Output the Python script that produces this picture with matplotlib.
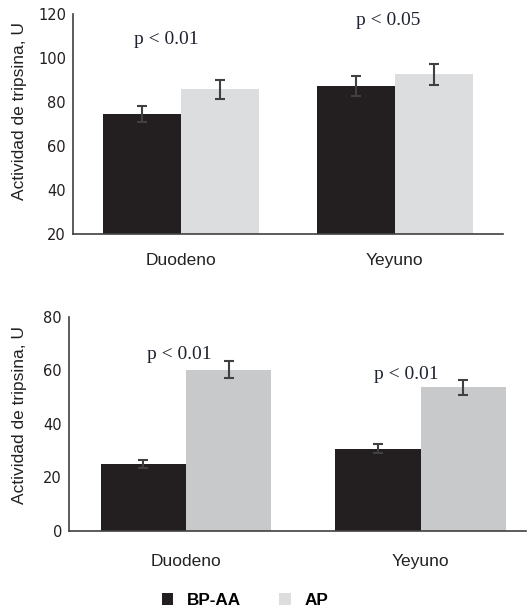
import matplotlib
matplotlib.use("Agg")
import matplotlib.pyplot as plt
import numpy as np

plt.rcParams["font.family"] = ["Liberation Sans", "DejaVu Sans"]

sitios = ["Duodeno", "Yeyuno"]
grupos = ["BP-AA", "AP"]

# panel superior
arriba_bpaa = [74.5, 87.3]
arriba_bpaa_err = [3.7, 4.5]
arriba_ap = [85.9, 92.6]
arriba_ap_err = [4.3, 4.7]
arriba_p = ["p < 0.01", "p < 0.05"]

# panel inferior
abajo_bpaa = [25.0, 30.7]
abajo_bpaa_err = [1.4, 1.7]
abajo_ap = [60.1, 53.6]
abajo_ap_err = [3.2, 2.7]
abajo_p = ["p < 0.01", "p < 0.01"]

negro = "#231f20"
gris_claro = "#dcdddf"
gris_medio = "#c8c9cb"
eje = "#404040"
texto = "#231f20"


def panel(ax, v1, e1, v2, e2, gris, ylim, yticks, pvals, ppos, pad_cat):
    x = np.arange(len(sitios))
    w = 0.364
    b1 = ax.bar(x - w / 2, v1, w, color=negro, zorder=2)
    b2 = ax.bar(x + w / 2, v2, w, color=gris, zorder=2)
    ax.errorbar(x - w / 2, v1, yerr=e1, fmt="none", ecolor=eje,
                elinewidth=1.5, capsize=3.5, capthick=1.5, zorder=3)
    ax.errorbar(x + w / 2, v2, yerr=e2, fmt="none", ecolor=eje,
                elinewidth=1.5, capsize=3.5, capthick=1.5, zorder=3)
    ax.set_ylim(*ylim)
    ax.set_yticks(yticks)
    ax.set_xticks(x)
    ax.set_xticklabels(sitios, fontsize=12.5, color="#222222")
    ax.tick_params(axis="x", length=0, pad=pad_cat)
    ax.tick_params(axis="y", length=0, pad=5, labelsize=10.5, labelcolor=texto)
    for lab in ax.get_yticklabels():
        lab.set_family("DejaVu Sans")
    for s in ["top", "right"]:
        ax.spines[s].set_visible(False)
    for s in ["left", "bottom"]:
        ax.spines[s].set_color(eje)
        ax.spines[s].set_linewidth(1.2)
    ax.set_ylabel("Actividad de tripsina, U", fontsize=12.5, color="#222222")
    for i, (txt, (dx, py)) in enumerate(zip(pvals, ppos)):
        ax.text(i + dx, py, txt, ha="center", va="center", fontsize=14,
                family="Liberation Serif", color="#1f2330")
    return b1, b2


fig = plt.figure(figsize=(5.3, 6.13), dpi=100)

ax1 = fig.add_axes([0.1377, 0.6183, 0.811, 0.3587])
h1, h2 = panel(ax1, arriba_bpaa, arriba_bpaa_err, arriba_ap, arriba_ap_err,
               gris_claro, (20, 120), [20, 40, 60, 80, 100, 120], arriba_p,
               [(-0.07, 108.6), (-0.03, 117.3)], 14)
ax1.set_xlim(-0.505, 1.505)
ax1.yaxis.set_label_coords(-0.107, 0.56)

ax2 = fig.add_axes([0.130, 0.1343, 0.862, 0.3491])
panel(ax2, abajo_bpaa, abajo_bpaa_err, abajo_ap, abajo_ap_err,
      gris_medio, (0, 80), [0, 20, 40, 60, 80], abajo_p,
      [(-0.03, 65.7), (-0.06, 58.2)], 17)
ax2.set_xlim(-0.5, 1.449)
ax2.yaxis.set_label_coords(-0.092, 0.54)

fig.legend([h1, h2], grupos, loc="center", bbox_to_anchor=(0.462, 0.02),
           ncol=2, frameon=False, handlelength=0.7, handleheight=0.7,
           handletextpad=0.8, columnspacing=2.2,
           prop={"weight": "bold", "size": 12.3})

fig.savefig("out.png", dpi=100)
